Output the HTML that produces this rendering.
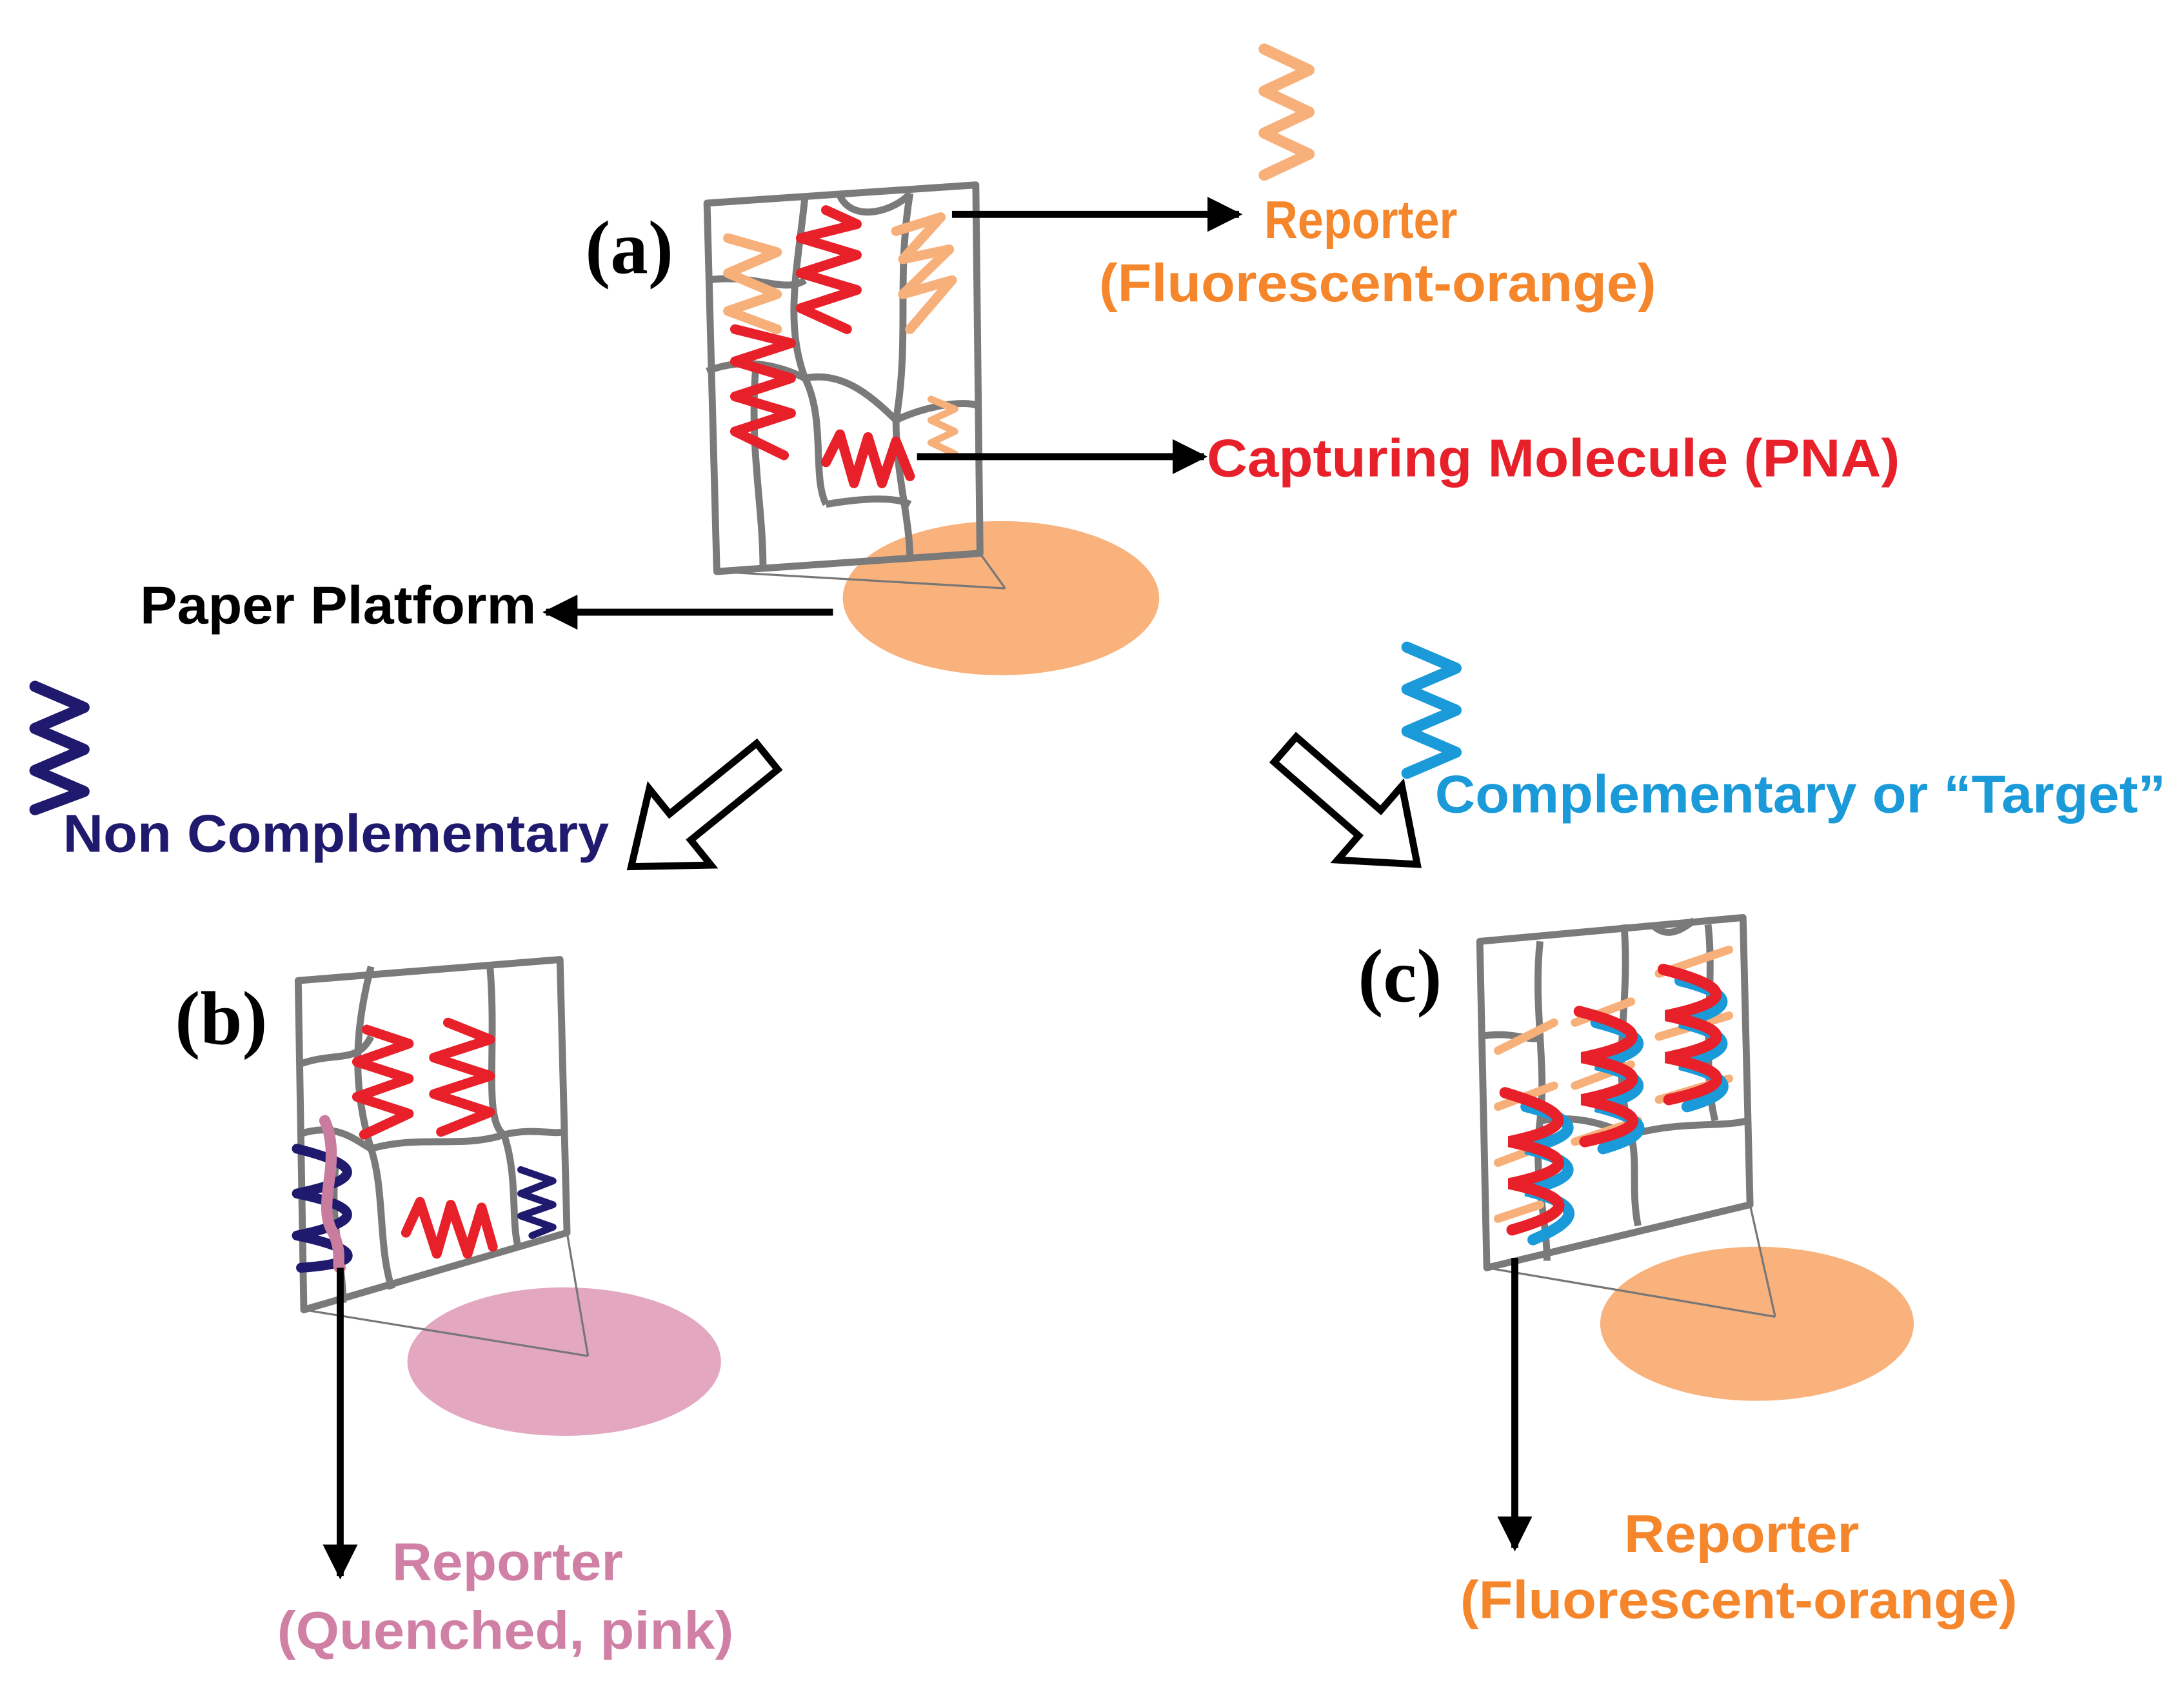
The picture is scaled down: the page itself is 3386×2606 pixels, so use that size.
<!DOCTYPE html>
<html><head><meta charset="utf-8"><style>
html,body{margin:0;padding:0;background:#fff}
svg{display:block}
text{font-family:"Liberation Sans",Arial,sans-serif;font-weight:bold}
.ser{font-family:"Liberation Serif","Times New Roman",serif;font-weight:bold}
</style></head><body>
<svg width="3386" height="2606" viewBox="0 0 1560 1200" preserveAspectRatio="none" xmlns="http://www.w3.org/2000/svg">
<defs>
<marker id="ah" viewBox="0 0 10 10" refX="9" refY="5" markerWidth="5" markerHeight="5" orient="auto"><path d="M0,0 L10,5 L0,10 z" fill="#000"/></marker>
</defs>
<g fill="none" stroke-linejoin="round" stroke-linecap="round">
<polyline points="903,35 935,50 903,65 935,80 903,95 935,110 903,125" stroke="#F8B07A" stroke-width="8"/>
<polyline points="25,490 60,505 25,520 60,535 25,550 60,565 25,578" stroke="#1F1A6E" stroke-width="8"/>
<polyline points="1005,462 1040,477 1005,492 1040,507 1005,522 1040,537 1005,552" stroke="#1A9AD8" stroke-width="8"/>
</g>

<!-- Panel a -->
<ellipse cx="715" cy="427" rx="113" ry="55" fill="#F9B27C"/>
<g stroke="#777" stroke-width="1.5" fill="none"><line x1="512" y1="408" x2="718" y2="420"/><line x1="700" y1="395" x2="718" y2="420"/></g>
<g fill="none" stroke="#7a7a7a" stroke-width="5" stroke-linejoin="round">
<polygon points="505,145 697,132 700,395 512,408"/>
<path d="M505,200 C540,195 560,210 575,200 M575,140 C570,190 560,230 575,270 C590,300 580,340 590,360 M505,265 C530,255 555,260 575,270 M600,140 C610,160 640,150 650,138 M650,138 C640,200 650,240 640,300 C640,340 650,370 650,400 M575,270 C600,265 620,280 640,300 M640,300 C660,290 690,285 699,290 M540,260 C535,320 545,360 545,405 M590,360 C620,355 640,355 650,360"/>
</g>
<g fill="none" stroke-linejoin="round" stroke-linecap="round" stroke-width="7">
<polyline points="520,170 555,180 520,195 555,210 520,222 555,235" stroke="#F8B07A"/>
<polyline points="640,165 672,155 645,185 678,178 645,210 680,200 650,235" stroke="#F8B07A"/>
<polyline points="665,285 682,292 665,300 682,308 665,316 682,324" stroke="#F8B07A" stroke-width="5"/>
<polyline points="590,150 612,160 572,170 612,182 572,195 612,207 572,220 605,235" stroke="#E8202A"/>
<polyline points="525,235 565,245 525,258 565,270 525,283 565,295 525,308 560,325" stroke="#E8202A"/>
<polyline points="590,330 600,310 610,345 620,312 630,345 640,315 650,340" stroke="#E8202A"/>
</g>
<line x1="680" y1="153" x2="885" y2="153" stroke="#000" stroke-width="5" marker-end="url(#ah)"/>
<line x1="655" y1="326" x2="860" y2="326" stroke="#000" stroke-width="5" marker-end="url(#ah)"/>
<line x1="595" y1="437" x2="390" y2="437" stroke="#000" stroke-width="5" marker-end="url(#ah)"/>
<text x="418" y="195" class="ser" font-size="54">(a)</text>
<text x="903" y="170" font-size="38" fill="#F5862B" textLength="138" lengthAdjust="spacingAndGlyphs">Reporter</text>
<text x="785" y="215" font-size="38" fill="#F5862B" textLength="398" lengthAdjust="spacingAndGlyphs">(Fluorescent-orange)</text>
<text x="862" y="340" font-size="38" fill="#E8202A" textLength="495" lengthAdjust="spacingAndGlyphs">Capturing Molecule (PNA)</text>
<text x="100" y="445" font-size="38" fill="#000" textLength="283" lengthAdjust="spacingAndGlyphs">Paper Platform</text>
<text x="45" y="608" font-size="38" fill="#1F1A6E" textLength="390" lengthAdjust="spacingAndGlyphs">Non Complementary</text>
<text x="1025" y="580" font-size="38" fill="#1A9AD8" textLength="522" lengthAdjust="spacingAndGlyphs">Complementary or “Target”</text>

<polygon transform="translate(548,540) rotate(141)" points="0,-12 80,-12 80,-35 125,0 80,35 80,12 0,12" fill="#fff" stroke="#000" stroke-width="5" stroke-linejoin="miter"/>
<polygon transform="translate(918,535) rotate(41)" points="0,-12 80,-12 80,-35 125,0 80,35 80,12 0,12" fill="#fff" stroke="#000" stroke-width="5" stroke-linejoin="miter"/>

<!-- Panel b -->
<ellipse cx="403" cy="972" rx="112" ry="53" fill="#E3A8C0"/>
<g stroke="#777" stroke-width="1.5" fill="none"><line x1="217" y1="935" x2="420" y2="968"/><line x1="405" y1="880" x2="420" y2="968"/></g>
<g fill="none" stroke="#7a7a7a" stroke-width="5" stroke-linejoin="round">
<polygon points="213,700 400,685 405,880 217,935"/>
<path d="M213,760 C240,750 255,760 265,740 M265,690 C255,730 250,770 265,820 C275,850 270,890 280,920 M213,810 C240,800 255,815 265,820 M265,820 C300,810 330,820 360,810 M350,690 C355,750 345,800 360,810 C370,840 365,870 370,890 M360,810 C380,805 395,810 402,808 M240,830 C235,870 245,900 245,930"/>
</g>
<g fill="none" stroke-linejoin="round" stroke-linecap="round" stroke-width="7">
<polyline points="262,735 292,745 255,758 292,770 255,783 292,795 260,810" stroke="#E8202A"/>
<polyline points="320,730 350,742 310,755 350,768 310,781 350,794 315,808" stroke="#E8202A"/>
<polyline points="290,880 300,858 312,895 322,860 334,895 344,862 352,890" stroke="#E8202A"/>
<path d="M212,820 C260,832 260,842 212,852 C260,862 260,872 212,882 C260,892 260,902 215,905" stroke="#1F1A6E"/>
<polyline points="372,835 395,843 372,852 395,860 372,868 395,876 380,882" stroke="#1F1A6E" stroke-width="5"/>
<path d="M232,800 C245,830 225,860 238,880 C245,895 240,905 243,905" stroke="#C97C9E" stroke-width="8"/>
</g>
<line x1="243" y1="905" x2="243" y2="1125" stroke="#000" stroke-width="5" marker-end="url(#ah)"/>
<text x="125" y="745" class="ser" font-size="54">(b)</text>
<text x="280" y="1128" font-size="38" fill="#D07FA5" textLength="165" lengthAdjust="spacingAndGlyphs">Reporter</text>
<text x="198" y="1177" font-size="38" fill="#D07FA5" textLength="326" lengthAdjust="spacingAndGlyphs">(Quenched, pink)</text>

<!-- Panel c -->
<ellipse cx="1255" cy="945" rx="112" ry="55" fill="#F9B27C"/>
<g stroke="#777" stroke-width="1.5" fill="none"><line x1="1062" y1="905" x2="1268" y2="940"/><line x1="1250" y1="860" x2="1268" y2="940"/></g>
<g fill="none" stroke="#7a7a7a" stroke-width="5" stroke-linejoin="round">
<polygon points="1057,672 1245,655 1250,860 1062,905"/>
<path d="M1100,672 C1095,720 1105,760 1100,800 C1095,840 1105,870 1105,900 M1057,740 C1080,735 1095,745 1100,740 M1180,660 C1190,670 1200,665 1210,657 M1160,660 C1165,720 1150,760 1165,810 C1170,830 1165,850 1170,875 M1100,800 C1130,795 1150,805 1165,810 M1165,810 C1200,800 1230,805 1248,800 M1220,660 C1225,700 1215,760 1225,800"/>
</g>
<g fill="none" stroke-linecap="round" stroke-width="6" stroke="#F8B07A">
<line x1="1070" y1="750" x2="1110" y2="730"/><line x1="1070" y1="790" x2="1110" y2="775"/><line x1="1070" y1="830" x2="1110" y2="815"/><line x1="1070" y1="870" x2="1100" y2="860"/>
<line x1="1125" y1="730" x2="1165" y2="715"/><line x1="1125" y1="775" x2="1165" y2="760"/><line x1="1125" y1="815" x2="1170" y2="800"/>
<line x1="1185" y1="695" x2="1235" y2="678"/><line x1="1185" y1="740" x2="1235" y2="725"/><line x1="1185" y1="785" x2="1235" y2="770"/>
</g>
<g fill="none" stroke-width="8" stroke-linecap="round">
<path d="M1090,790 C1130,800 1130,810 1090,820 C1130,830 1130,840 1090,850 C1130,860 1130,870 1095,885" stroke="#1A9AD8"/>
<path d="M1075,780 C1125,795 1125,805 1078,815 C1125,825 1125,835 1078,845 C1125,855 1125,865 1080,878" stroke="#E8202A"/>
<path d="M1140,730 C1180,740 1180,750 1140,760 C1180,770 1180,780 1140,790 C1180,800 1180,810 1145,820" stroke="#1A9AD8"/>
<path d="M1128,722 C1178,735 1178,745 1130,755 C1178,765 1178,775 1130,785 C1178,795 1178,805 1132,815" stroke="#E8202A"/>
<path d="M1200,700 C1240,710 1240,720 1200,730 C1240,740 1240,750 1200,760 C1240,770 1240,780 1205,790" stroke="#1A9AD8"/>
<path d="M1188,692 C1238,705 1238,715 1190,725 C1238,735 1238,745 1190,755 C1238,765 1238,775 1192,785" stroke="#E8202A"/>
</g>
<line x1="1082" y1="898" x2="1082" y2="1105" stroke="#000" stroke-width="5" marker-end="url(#ah)"/>
<text x="970" y="715" class="ser" font-size="54">(c)</text>
<text x="1160" y="1108" font-size="38" fill="#F5862B" textLength="168" lengthAdjust="spacingAndGlyphs">Reporter</text>
<text x="1043" y="1155" font-size="38" fill="#F5862B" textLength="398" lengthAdjust="spacingAndGlyphs">(Fluorescent-orange)</text>
</svg>
</body></html>
